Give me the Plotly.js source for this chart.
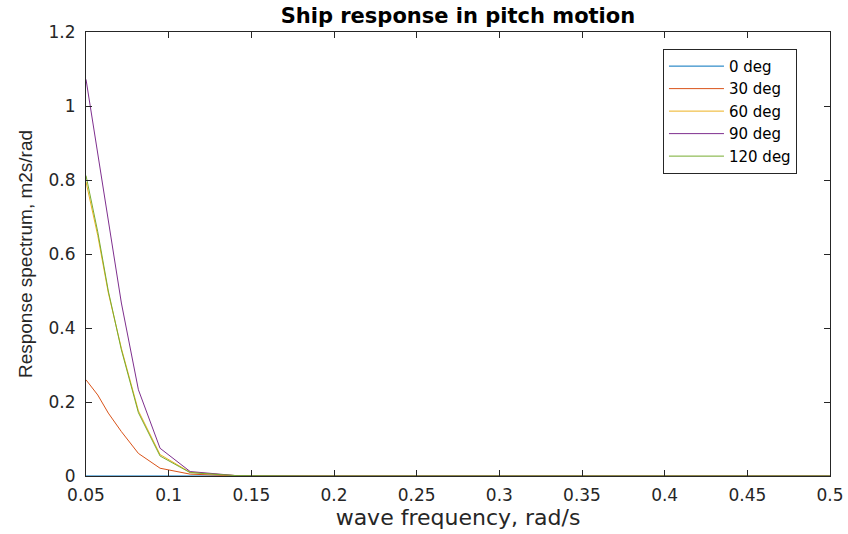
<!DOCTYPE html>
<html>
<head>
<meta charset="utf-8">
<script src="https://cdn.plot.ly/plotly-3.0.1.min.js"></script>
<style>
  html, body { margin: 0; padding: 0; background: #ffffff; }
  #chart { width: 848px; height: 534px; }
</style>
</head>
<body>
<div id="chart"></div>
<script>
// Wave frequencies (rad/s)
const freq = [0.05, 0.0571, 0.0635, 0.0714, 0.0817, 0.0948, 0.113, 0.141, 0.187, 0.278, 0.5];

// Pitch response spectra (m2s/rad) per heading angle
const deg0   = [0, 0, 0, 0, 0, 0, 0, 0, 0, 0, 0];
const deg30  = [0.26, 0.219, 0.17, 0.12, 0.061, 0.021, 0.005, 0.0005, 0, 0, 0];
const deg60  = [0.795, 0.65, 0.495, 0.345, 0.176, 0.058, 0.010, 0.001, 0, 0, 0];
const deg90  = [1.072, 0.872, 0.68, 0.4675, 0.233, 0.075, 0.012, 0.001, 0, 0, 0];
const deg120 = [0.812, 0.66, 0.50, 0.341, 0.171, 0.054, 0.009, 0.001, 0, 0, 0];

const seriesNames = ['0 deg', '30 deg', '60 deg', '90 deg', '120 deg'];
const seriesData = [deg0, deg30, deg60, deg90, deg120];
const colors = ['#0072BD', '#D95319', '#EDB120', '#7E2F8E', '#77AC30'];

const xTicks = [0.05, 0.1, 0.15, 0.2, 0.25, 0.3, 0.35, 0.4, 0.45, 0.5];
const xTickText = ['0.05', '0.1', '0.15', '0.2', '0.25', '0.3', '0.35', '0.4', '0.45', '0.5'];
const yTicks = [0, 0.2, 0.4, 0.6, 0.8, 1, 1.2];
const yTickText = ['0', '0.2', '0.4', '0.6', '0.8', '1', '1.2'];

const traces = seriesData.map((vals, i) => ({
  x: freq,
  y: vals,
  type: 'scatter',
  mode: 'lines',
  name: seriesNames[i],
  line: { color: colors[i], width: 1 }
}));

const axisCommon = {
  showline: true,
  linecolor: '#262626',
  linewidth: 1,
  mirror: 'ticks',
  ticks: 'inside',
  ticklen: 6,
  tickwidth: 1,
  tickcolor: '#262626',
  showgrid: false,
  zeroline: false,
  tickfont: { family: 'DejaVu Sans, sans-serif', size: 17, color: '#262626' }
};

const layout = {
  width: 848,
  height: 534,
  margin: { l: 86, r: 18, t: 32, b: 58 },
  paper_bgcolor: '#ffffff',
  plot_bgcolor: '#ffffff',
  showlegend: true,
  title: {
    text: '<b>Ship response in pitch motion</b>',
    font: { family: 'DejaVu Sans, sans-serif', size: 21, color: '#000000' },
    x: 0.54, xanchor: 'center', y: 0.97, yanchor: 'middle'
  },
  xaxis: Object.assign({}, axisCommon, {
    range: [0.05, 0.5],
    tickmode: 'array',
    tickvals: xTicks,
    ticktext: xTickText,
    ticklabelstandoff: 4,
    title: {
      text: 'wave frequency, rad/s',
      font: { family: 'DejaVu Sans, sans-serif', size: 22, color: '#262626' },
      standoff: 2
    }
  }),
  yaxis: Object.assign({}, axisCommon, {
    range: [0, 1.2],
    tickmode: 'array',
    tickvals: yTicks,
    ticktext: yTickText,
    ticklabelstandoff: 6,
    title: {
      text: 'Response spectrum, m2s/rad',
      font: { family: 'Liberation Sans, Arial, sans-serif', size: 19, color: '#262626' },
      standoff: 10
    }
  }),
  legend: {
    x: 0.7755, y: 0.962, xanchor: 'left', yanchor: 'top',
    bgcolor: '#ffffff',
    bordercolor: '#262626',
    borderwidth: 1,
    itemwidth: 55,
    font: { family: 'DejaVu Sans, sans-serif', size: 15, color: '#000000' },
    tracegroupgap: 0
  }
};

Plotly.newPlot('chart', traces, layout, { displayModeBar: false, staticPlot: true });
</script>
</body>
</html>
